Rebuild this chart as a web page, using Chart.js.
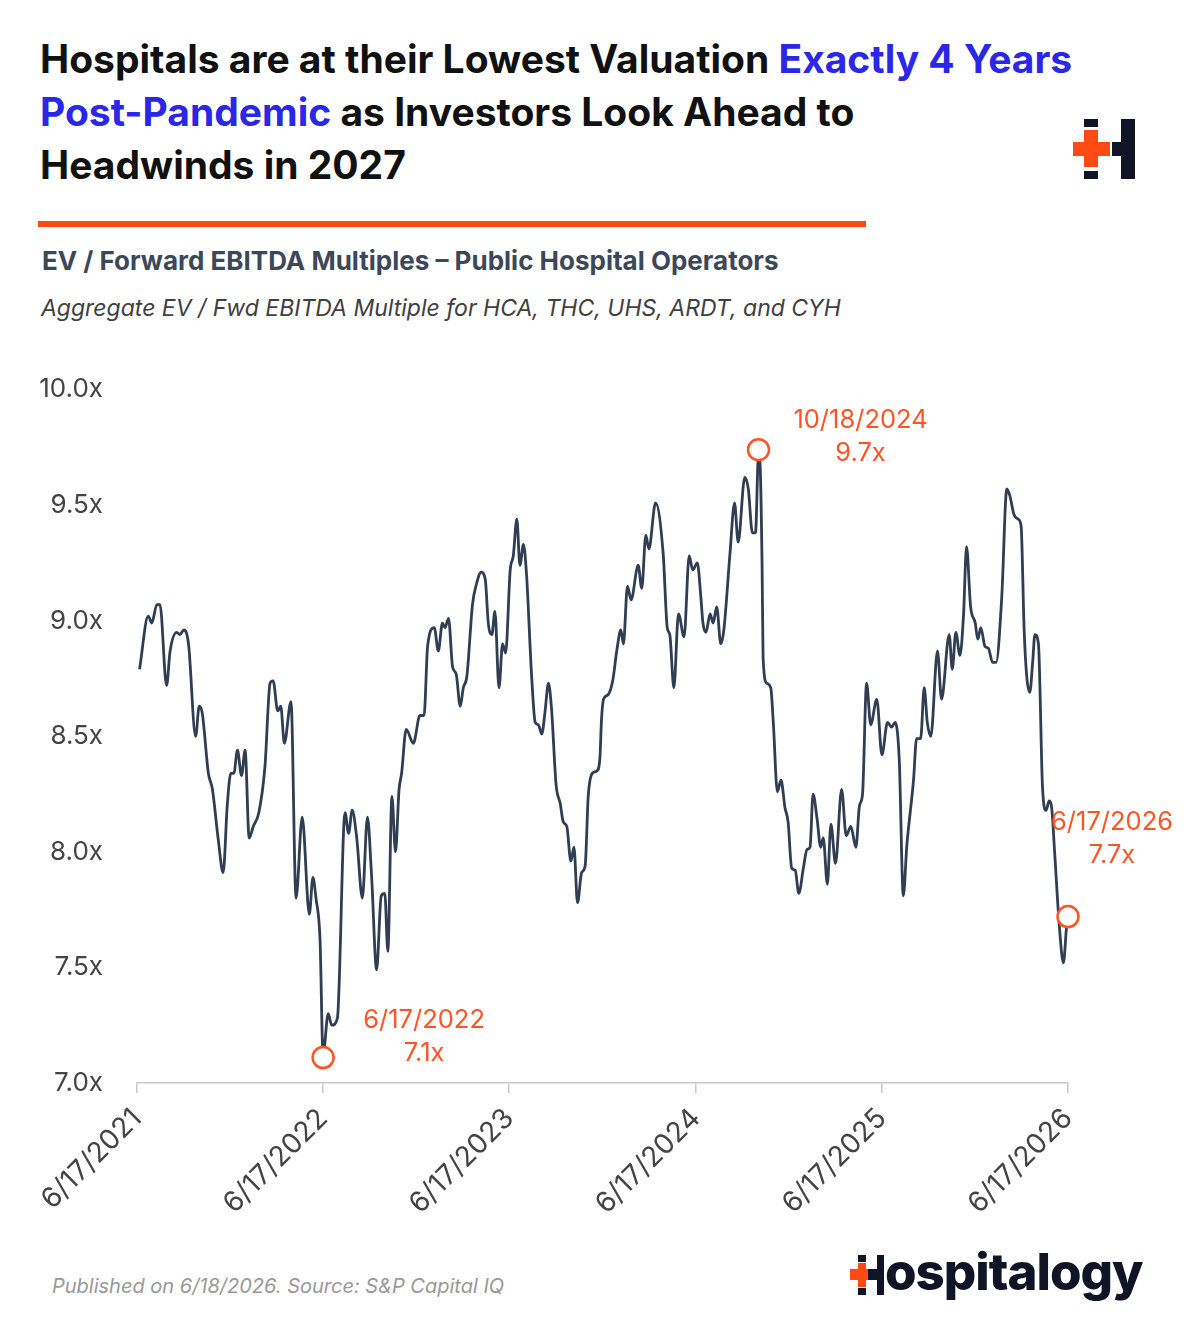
<!DOCTYPE html>
<html>
<head>
<meta charset="utf-8">
<script src="https://cdn.jsdelivr.net/npm/chart.js@4.4.1/dist/chart.umd.min.js"></script>
<style>
  body { margin: 0; background: #fff; font-family: Inter, "Noto Sans", sans-serif; }
  #page { position: relative; width: 1200px; height: 1333px; overflow: hidden; background: #fff; }
  #title { position: absolute; left: 40px; top: 32px; font-size: 39px; line-height: 53px; font-weight: 700; color: #111; white-space: nowrap; }
  #title .blue { color: #2a27e6; }
  #rule { position: absolute; left: 38px; top: 221px; width: 828px; height: 6px; background: #ff4a14; }
  #sub { position: absolute; left: 42px; top: 246px; font-size: 26px; line-height: 30px; font-weight: 700; color: #3c4858; white-space: nowrap; }
  #sub2 { position: absolute; left: 41px; top: 294px; font-size: 23px; line-height: 28px; font-style: italic; color: #404040; white-space: nowrap; }
  #foot { position: absolute; left: 52px; top: 1274px; font-size: 20px; line-height: 24px; font-style: italic; color: #999; white-space: nowrap; }
  #chart { position: absolute; left: 0; top: 340px; }
  .blk { position: absolute; background: #0f1426; }
  .org { position: absolute; background: #ff4a14; }
  #brand { position: absolute; left: 885px; top: 1242px; font-size: 51px; line-height: 60px; font-weight: 800; color: #0f1426; letter-spacing: -1px; }
</style>
</head>
<body>
<div id="page">
  <div id="title">Hospitals are at their Lowest Valuation <span class="blue">Exactly 4 Years</span><br><span class="blue">Post-Pandemic</span> as Investors Look Ahead to<br>Headwinds in 2027</div>

  <!-- top-right mark -->
  <div class="blk" style="left:1084px;top:119px;width:14px;height:8px"></div>
  <div class="org" style="left:1084px;top:130px;width:14px;height:37px"></div>
  <div class="org" style="left:1073px;top:142px;width:37px;height:14px"></div>
  <div class="blk" style="left:1084px;top:171px;width:14px;height:8px"></div>
  <div class="blk" style="left:1112px;top:142px;width:10px;height:14px"></div>
  <div class="blk" style="left:1121px;top:119px;width:14px;height:60px"></div>

  <div id="rule"></div>
  <div id="sub">EV / Forward EBITDA Multiples – Public Hospital Operators</div>
  <div id="sub2">Aggregate EV / Fwd EBITDA Multiple for HCA, THC, UHS, ARDT, and CYH</div>

  <canvas id="chart" width="1200" height="883"></canvas>

  <div id="foot">Published on 6/18/2026. Source: S&amp;P Capital IQ</div>

  <!-- bottom brand -->
  <div class="blk" style="left:858px;top:1255px;width:8px;height:7px"></div>
  <div class="org" style="left:858px;top:1263px;width:8px;height:24px"></div>
  <div class="org" style="left:850px;top:1269px;width:26px;height:11px"></div>
  <div class="blk" style="left:858px;top:1288px;width:8px;height:7px"></div>
  <div class="blk" style="left:868px;top:1269px;width:10px;height:11px"></div>
  <div class="blk" style="left:877px;top:1255px;width:7px;height:40px"></div>
  <div id="brand" aria-label="Hospitalogy">ospitalogy</div>
</div>

<script>
// --- Data: days since 6/17/2021 and aggregate EV / Fwd EBITDA multiple ---
const days = [
  5, 22, 29, 39, 45, 58, 65, 78, 84, 92, 101, 115, 122, 128, 140, 148, 159, 169, 177, 184,
  190, 197, 205, 212, 220, 228, 239, 251, 261, 267, 276, 282, 289, 302, 312, 324, 338, 345, 351, 359,
  365, 375, 382, 393, 408, 415, 422, 431, 442, 452, 460, 470, 479, 486, 492, 500, 507, 514, 519, 528,
  542, 555, 563, 570, 583, 591, 599, 604, 611, 619, 626, 634, 640, 647, 658, 666, 675, 683, 689, 696,
  702, 710, 717, 723, 732, 738, 745, 751, 758, 764, 774, 781, 787, 794, 800, 807, 813, 822, 830, 836,
  843, 851, 857, 864, 872, 879, 885, 893, 902, 908, 911, 915, 924, 933, 941, 949, 954, 962, 969, 983,
  990, 998, 1004, 1017, 1032, 1040, 1045, 1053, 1062, 1073, 1083, 1090, 1099, 1106, 1110, 1116, 1124, 1130, 1137, 1145,
  1151, 1163, 1172, 1179, 1192, 1199, 1207, 1213, 1219, 1222, 1226, 1228, 1235, 1243, 1248, 1256, 1263, 1271, 1277, 1284,
  1291, 1298, 1307, 1314, 1320, 1326, 1334, 1341, 1346, 1354, 1361, 1370, 1382, 1391, 1400, 1410, 1417, 1423, 1431, 1439,
  1451, 1461, 1472, 1480, 1487, 1495, 1503, 1510, 1523, 1529, 1537, 1544, 1550, 1557, 1570, 1578, 1593, 1599, 1606, 1614,
  1621, 1627, 1635, 1644, 1649, 1655, 1663, 1670, 1678, 1685, 1696, 1706, 1712, 1720, 1728, 1734, 1740, 1745, 1751, 1757,
  1761, 1768, 1776, 1783, 1789, 1794, 1800, 1809, 1817, 1823, 1826
];
const multiples = [
  8.79, 9.02, 8.99, 9.07, 9.07, 8.72, 8.87, 8.95, 8.94, 8.96, 8.90, 8.50, 8.63, 8.60, 8.34, 8.27, 8.06, 7.91, 8.20, 8.34,
  8.34, 8.44, 8.33, 8.44, 8.06, 8.11, 8.17, 8.37, 8.73, 8.74, 8.61, 8.63, 8.47, 8.65, 7.80, 8.15, 7.73, 7.89, 7.80, 7.62,
  7.12, 7.30, 7.25, 7.28, 8.17, 8.08, 8.18, 8.06, 7.80, 8.15, 7.90, 7.49, 7.81, 7.82, 7.57, 8.24, 8.00, 8.27, 8.34, 8.53,
  8.47, 8.59, 8.59, 8.89, 8.97, 8.87, 8.99, 8.97, 9.01, 8.80, 8.77, 8.63, 8.71, 8.76, 9.07, 9.16, 9.21, 9.18, 8.99, 8.94,
  9.04, 8.71, 8.90, 8.86, 9.22, 9.28, 9.44, 9.24, 9.33, 9.20, 8.76, 8.56, 8.55, 8.51, 8.60, 8.73, 8.62, 8.29, 8.21, 8.13,
  8.11, 7.96, 8.02, 7.78, 7.91, 7.94, 8.24, 8.34, 8.35, 8.41, 8.57, 8.66, 8.68, 8.74, 8.87, 8.96, 8.90, 9.15, 9.09, 9.24,
  9.14, 9.37, 9.31, 9.51, 9.29, 8.97, 8.94, 8.71, 9.03, 8.93, 9.28, 9.22, 9.25, 9.10, 8.99, 8.95, 9.03, 8.99, 9.06, 8.90,
  8.96, 9.29, 9.51, 9.34, 9.62, 9.57, 9.38, 9.38, 9.72, 9.68, 9.24, 8.84, 8.73, 8.71, 8.56, 8.26, 8.31, 8.19, 8.13, 7.93,
  7.92, 7.82, 7.93, 8.01, 8.02, 8.25, 8.14, 8.02, 8.06, 7.86, 8.12, 7.95, 8.27, 8.07, 8.11, 8.02, 8.20, 8.25, 8.73, 8.55,
  8.66, 8.42, 8.56, 8.54, 8.56, 8.40, 7.81, 8.03, 8.31, 8.49, 8.49, 8.71, 8.56, 8.50, 8.87, 8.66, 8.94, 8.79, 8.95, 8.85,
  9.02, 9.32, 9.06, 8.99, 8.92, 8.97, 8.89, 8.88, 8.82, 8.82, 9.10, 9.57, 9.54, 9.46, 9.44, 9.41, 8.96, 8.76, 8.69, 8.83,
  8.94, 8.90, 8.28, 8.18, 8.22, 8.19, 7.99, 7.68, 7.52, 7.67, 7.72
];

// x-axis ticks
const tickDays = [0, 365, 730, 1096, 1461, 1826];
const tickLabels = ["6/17/2021", "6/17/2022", "6/17/2023", "6/17/2024", "6/17/2025", "6/17/2026"];

// highlighted points
const noteDays = [365, 1219, 1826];
const noteValues = [7.11, 9.74, 7.72];
const noteDates = ["6/17/2022", "10/18/2024", "6/17/2026"];
const noteLabels = ["7.1x", "9.7x", "7.7x"];

const ORANGE = "#ff5426";
const FONT = "Inter, 'Noto Sans', sans-serif";

// label offsets (px) from each circle: [dx, dy of first line]
const noteOffsets = [[101, -37], [102, -29], [44, -94]];

const noteTextPlugin = {
  id: "noteText",
  afterDatasetsDraw(chart) {
    const ctx = chart.ctx;
    const xs = chart.scales.x, ys = chart.scales.y;
    ctx.save();
    ctx.fillStyle = ORANGE;
    ctx.font = "25.5px " + FONT;
    ctx.textAlign = "center";
    ctx.textBaseline = "middle";
    noteDays.forEach((d, i) => {
      const px = xs.getPixelForValue(d);
      const py = ys.getPixelForValue(noteValues[i]);
      const [dx, dy] = noteOffsets[i];
      ctx.fillText(noteDates[i], px + dx, py + dy);
      ctx.fillText(noteLabels[i], px + dx, py + dy + 33);
    });
    ctx.restore();
  }
};

const linePoints = days.map((d, i) => ({ x: d, y: multiples[i] }));
const notePoints = noteDays.map((d, i) => ({ x: d, y: noteValues[i] }));

new Chart(document.getElementById("chart"), {
  type: "line",
  data: {
    datasets: [
      {
        data: linePoints,
        borderColor: "#2f3e52",
        borderWidth: 2.8,
        pointRadius: 0,
        cubicInterpolationMode: "monotone",
        order: 2
      },
      {
        data: notePoints,
        showLine: false,
        clip: false,
        pointRadius: 10.5,
        pointBorderWidth: 2.5,
        pointBorderColor: ORANGE,
        pointBackgroundColor: "#fff",
        order: 1
      }
    ]
  },
  options: {
    responsive: false,
    animation: false,
    layout: { padding: { top: 44, right: 132, left: 0, bottom: 0 } },
    plugins: { legend: { display: false }, tooltip: { enabled: false } },
    scales: {
      x: {
        type: "linear",
        min: 0,
        max: 1826,
        afterBuildTicks: axis => { axis.ticks = tickDays.map(v => ({ value: v })); },
        afterFit: s => { s.height = 140; },
        ticks: {
          callback: v => tickLabels[tickDays.indexOf(v)],
          maxRotation: 45,
          minRotation: 45,
          padding: 9,
          color: "#444",
          font: { family: FONT, size: 28 }
        },
        grid: { drawOnChartArea: false, drawTicks: true, tickLength: 10, color: "#c8c8c8", lineWidth: 1.5 },
        border: { color: "#c8c8c8", width: 1.5 }
      },
      y: {
        min: 7,
        max: 10,
        afterFit: s => { s.width = 137; },
        ticks: {
          stepSize: 0.5,
          callback: v => v.toFixed(1) + "x",
          padding: 34,
          color: "#444",
          font: { family: FONT, size: 26 }
        },
        grid: { display: false, drawTicks: false },
        border: { display: false }
      }
    }
  },
  plugins: [noteTextPlugin]
});
</script>
</body>
</html>
